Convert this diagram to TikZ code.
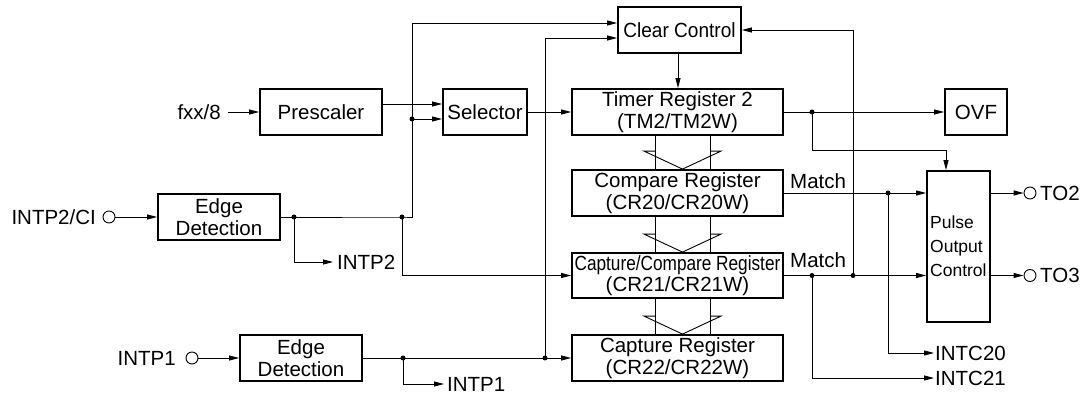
\documentclass[tikz,border=0pt]{standalone}
\usepackage{fontspec}
\setmainfont{Liberation Sans}
\usetikzlibrary{arrows.meta,calc}
\begin{document}
\begin{tikzpicture}[x=1pt,y=-1pt,
 box/.style={draw,line width=1.8pt,inner sep=0pt,align=center,font=\fontsize{20.5}{21.5}\selectfont},
 lbl/.style={inner sep=0pt,font=\fontsize{20.5}{21.5}\selectfont},
 ln/.style={line width=0.9pt},
 arr/.style={ln,-{Triangle[length=10pt,width=5pt]}},
 jdot/.style={circle,fill,inner sep=0pt,minimum size=5pt},
 pin/.style={circle,draw,line width=0.9pt,inner sep=0pt,minimum size=12pt},
]
\useasboundingbox (0,0) rectangle (1088,395);

% boxes
\node[box,minimum width=122pt,minimum height=46pt] (pre) at (321,112) {Prescaler};
\node[box,minimum width=84pt,minimum height=46pt] (sel) at (485,112) {Selector};
\node[box,minimum width=123pt,minimum height=46pt] (cc) at (679.5,30) {\scalebox{0.93}[1]{Clear Control}};
\node[box,minimum width=211pt,minimum height=46pt] (tm) at (677.5,112) {Timer Register 2\\(TM2/TM2W)};
\node[box,minimum width=62pt,minimum height=46pt] (ovf) at (976,112) {OVF};
\node[box,minimum width=211pt,minimum height=46pt] (cr20) at (677.5,193) {Compare Register\\(CR20/CR20W)};
\node[box,minimum width=211pt,minimum height=45pt] (cr21) at (677.5,275.5) {\scalebox{0.84}[1]{Capture/Compare Register}\\(CR21/CR21W)};
\node[box,minimum width=211pt,minimum height=46pt] (cr22) at (677.5,358) {Capture Register\\(CR22/CR22W)};
\node[box,minimum width=122pt,minimum height=46pt] (ed1) at (219,217) {Edge\\Detection};
\node[box,minimum width=122pt,minimum height=46pt] (ed2) at (301,358) {Edge\\Detection};
\node[box,minimum width=63pt,minimum height=151pt] (poc) at (958.5,246.5) {};
\node[lbl,anchor=west,align=left,font=\fontsize{17.5}{24}\selectfont] (poct) at (930,246) {Pulse\\Output\\Control};

% pins and labels
\node[pin] (p1) at (109,217) {};
\node[lbl,anchor=east] (intp2ci) at (96,217) {INTP2/CI};
\node[pin] (p2) at (192,358) {};
\node[lbl,anchor=east] (intp1in) at (176,358) {INTP1};
\node[lbl,anchor=east] (fxx) at (221,112) {fxx/8};
\node[lbl,anchor=west] (intp2) at (337,262) {INTP2};
\node[lbl,anchor=west] (intp1) at (447,384) {INTP1};
\node[lbl,anchor=west] (intc20) at (935,353) {INTC20};
\node[lbl,anchor=west] (intc21) at (935,378) {INTC21};
\node[pin] (to2p) at (1030,193) {};
\node[pin] (to3p) at (1030,275.5) {};
\node[lbl,anchor=west] (to2) at (1040,193) {TO2};
\node[lbl,anchor=west] (to3) at (1040,275.5) {TO3};
\node[lbl,anchor=west] (m20) at (790,181) {Match};
\node[lbl,anchor=west] (m21) at (790,260) {Match};

% junctions
\node[jdot] (j1) at (294,217) {};
\node[jdot] (j2) at (402,217) {};
\node[jdot] (j3) at (412,119) {};
\coordinate (j4) at (412,217);
\coordinate (j5) at (412,23);
\node[jdot] (k1) at (403,358) {};
\node[jdot] (k2) at (545,358) {};
\coordinate (k3) at (545,38);
\node[jdot] (m1) at (812,112) {};
\coordinate (m2) at (946,150);
\node[jdot] (n1) at (888,193) {};
\node[jdot] (q1) at (812,275.5) {};
\node[jdot] (q2) at (853,275.5) {};

% connectors
\draw[arr] ([xshift=7pt]fxx.east) -- (pre.west);
\draw[arr] (pre.east |- 0,104) -- (sel.west |- 0,104);
\draw[arr] (p1) -- (ed1.west);
\draw[arr] (p2) -- (ed2.west);
\draw[arr] (ed1.east) -- (j2.center) -- (j4) -- (j5) -- (cc.west |- j5);
\draw[arr] (j3.center) -- (sel.west |- j3);
\draw[arr] (j1.center) |- ([xshift=-4pt]intp2.west);
\draw[arr] (j2.center) |- (cr21.west);
\draw[arr] (ed2.east) -- (cr22.west);
\draw[arr] (k2.center) -- (k3) -- (cc.west |- k3);
\draw[arr] (k1.center) |- ([xshift=-3pt]intp1.west);
\draw[arr] (cc.south -| 678,0) -- (tm.north -| 678,0);
\draw[arr] (sel.east) -- (tm.west);
\draw[arr] (tm.east) -- (ovf.west);
\draw[arr] (m1.center) |- (m2) -- (m2 |- poc.north);
\draw[arr] (cr20.east) -- (poc.west |- cr20.east);
\draw[arr] (n1.center) |- ([xshift=-1pt]intc20.west);
\draw[arr] (cr21.east) -- (poc.west |- cr21.east);
\draw[arr] (q2.center) |- (cc.east);
\draw[arr] (q1.center) |- ([xshift=-1pt]intc21.west);
\draw[arr] (poc.east |- to2p) -- (to2p.west);
\draw[arr] (poc.east |- to3p) -- (to3p.west);

% hollow transfer arrows
\foreach \u/\l in {tm/cr20,cr20/cr21,cr21/cr22}{
  \draw[ln] (\u.south -| 655,0) -- (\l.north -| 655,0);
  \draw[ln] (\u.south -| 710,0) -- (\l.north -| 710,0);
  \draw[ln] ($(\l.north -| 655,0)+(0,-18)$) -- ($(\l.north -| 644,0)+(0,-18)$)
     -- (\l.north -| 682.5,0) -- ($(\l.north -| 721,0)+(0,-18)$) -- ($(\l.north -| 710,0)+(0,-18)$);
}
\end{tikzpicture}
\end{document}
